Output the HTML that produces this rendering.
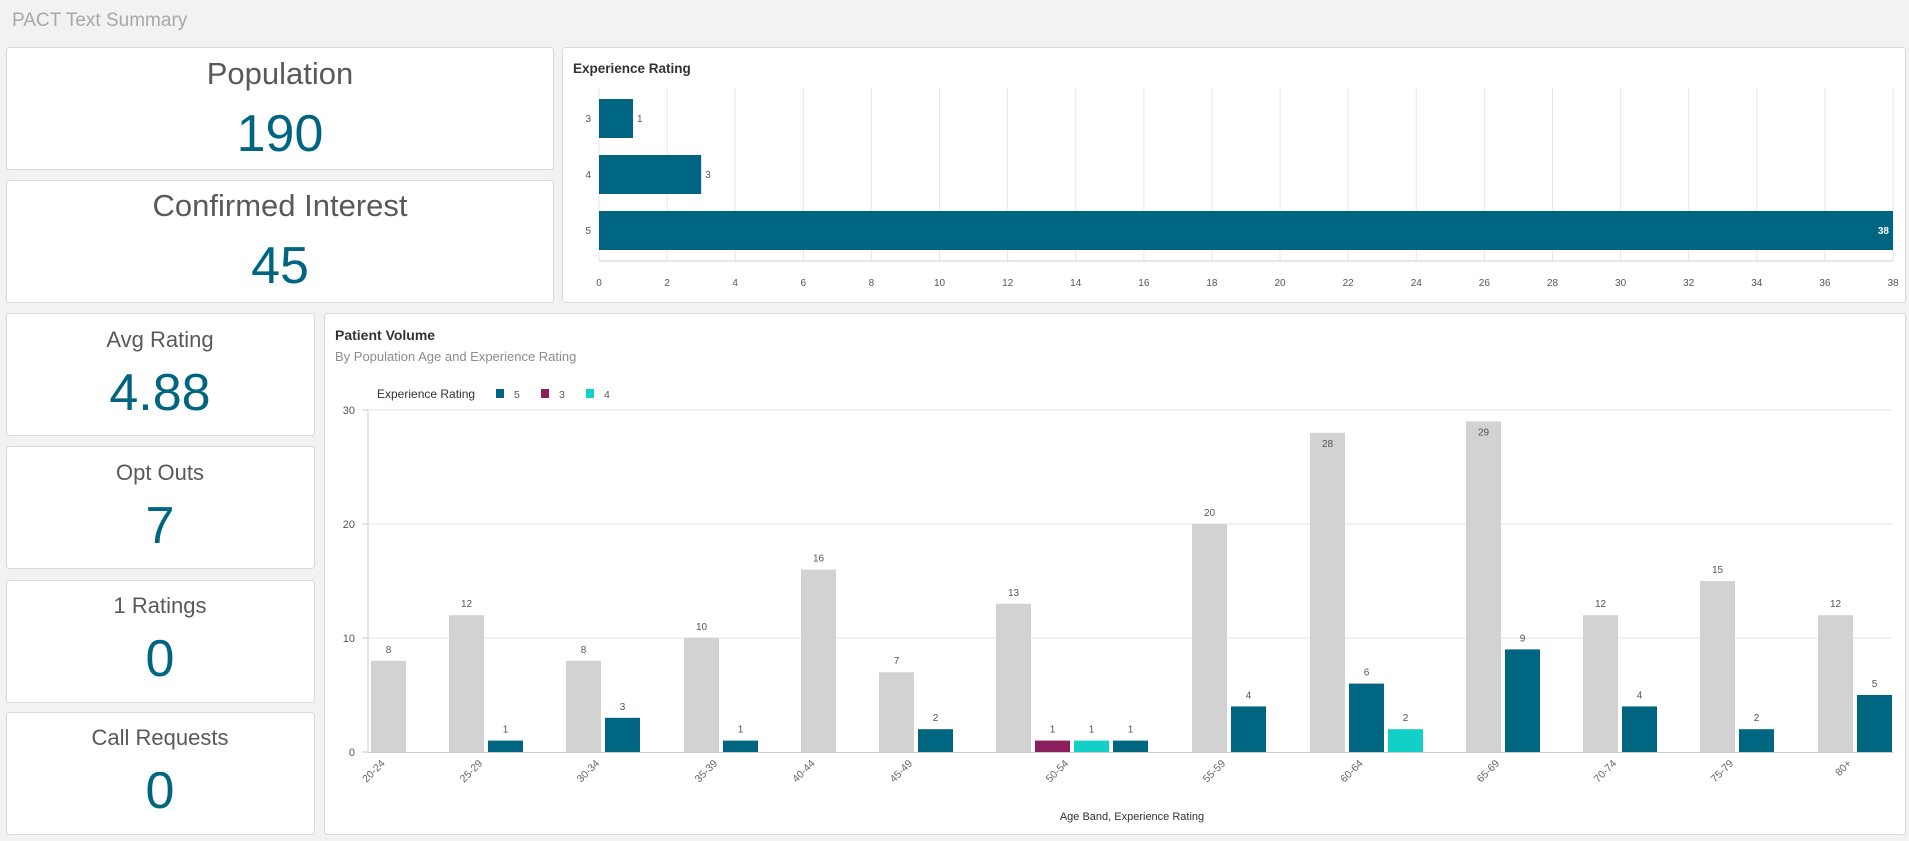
<!DOCTYPE html>
<html><head><meta charset="utf-8"><style>
html,body{margin:0;padding:0;background:#f2f2f2;}
svg{display:block;font-family:"Liberation Sans",sans-serif;}
</style></head><body>
<svg width="1909" height="841" viewBox="0 0 1909 841" xmlns="http://www.w3.org/2000/svg">
<rect width="1909" height="841" fill="#f2f2f2"/>
<text x="12" y="26" font-size="19" fill="#a8a8a8">PACT Text Summary</text>
<g fill="#fff" stroke="#d9d9d9" stroke-width="1">
<rect x="6.5" y="47.5" width="547" height="122" rx="3"/>
<rect x="6.5" y="180.5" width="547" height="122" rx="3"/>
<rect x="562.5" y="47.5" width="1343" height="255" rx="3"/>
<rect x="6.5" y="313.5" width="308" height="122" rx="3"/>
<rect x="6.5" y="446.5" width="308" height="122" rx="3"/>
<rect x="6.5" y="580.5" width="308" height="122" rx="3"/>
<rect x="6.5" y="712.5" width="308" height="122" rx="3"/>
<rect x="324.5" y="313.5" width="1581" height="521" rx="3"/>
</g>
<g text-anchor="middle" fill="#595959">
<text x="280" y="84" font-size="31">Population</text>
<text x="280" y="216" font-size="31">Confirmed Interest</text>
<text x="160" y="347" font-size="22">Avg Rating</text>
<text x="160" y="480" font-size="22">Opt Outs</text>
<text x="160" y="613" font-size="22">1 Ratings</text>
<text x="160" y="745" font-size="22">Call Requests</text>
</g>
<g text-anchor="middle" fill="#006580">
<text x="280" y="151" font-size="52">190</text>
<text x="280" y="283" font-size="52">45</text>
<text x="160" y="410" font-size="52">4.88</text>
<text x="160" y="543" font-size="52">7</text>
<text x="160" y="676" font-size="52">0</text>
<text x="160" y="808" font-size="52">0</text>
</g>
<text x="573" y="73" font-size="13.5" font-weight="bold" fill="#333">Experience Rating</text>
<g stroke="#e6e6e6" stroke-width="1" id="eg"></g>
<g id="ex"></g>
<text x="335" y="340" font-size="14" font-weight="bold" fill="#333">Patient Volume</text>
<text x="335" y="361" font-size="13" fill="#8c8c8c">By Population Age and Experience Rating</text>
<text x="377" y="398" font-size="12" fill="#333">Experience Rating</text>
<rect x="496" y="389" width="8" height="9" fill="#006580"/><text x="514" y="398" font-size="10.5" fill="#555">5</text>
<rect x="541" y="389" width="8" height="9" fill="#8b1f5c"/><text x="559" y="398" font-size="10.5" fill="#555">3</text>
<rect x="586" y="389" width="8" height="9" fill="#12cfc8"/><text x="604" y="398" font-size="10.5" fill="#555">4</text>
<g id="pv"></g>
<text x="1132" y="820" font-size="11" fill="#333" text-anchor="middle">Age Band, Experience Rating</text>
<script>
(function(){
var NS="http://www.w3.org/2000/svg";
function el(p,t,a,txt){var e=document.createElementNS(NS,t);for(var k in a)e.setAttribute(k,a[k]);if(txt!==undefined)e.textContent=txt;p.appendChild(e);return e;}
var eg=document.getElementById('eg'),ex=document.getElementById('ex');
var x0=599,w=1294/38;
for(var v=0;v<=38;v+=2){var x=x0+v*w;el(eg,'line',{x1:x,x2:x,y1:88,y2:261});
el(ex,'text',{x:x,y:286,'font-size':10,fill:'#555','text-anchor':'middle'},v);}
el(ex,'line',{x1:599,x2:1893,y1:261,y2:261,stroke:'#ccc'});
var eb=[[3,1,99],[4,3,155],[5,38,211]];
eb.forEach(function(b){el(ex,'rect',{x:599,y:b[2],width:b[1]*w,height:39,fill:'#006580'});
el(ex,'text',{x:591,y:b[2]+23,'font-size':10,fill:'#555','text-anchor':'end'},b[0]);
if(b[1]==38)el(ex,'text',{x:1889,y:b[2]+23,'font-size':10,'font-weight':'bold',fill:'#fff','text-anchor':'end'},'38');
else el(ex,'text',{x:599+b[1]*w+4,y:b[2]+23,'font-size':10,fill:'#555'},b[1]);});
var pv=document.getElementById('pv');
var y0=752,u=11.4;
[0,10,20,30].forEach(function(v){var y=y0-v*u;
if(v>0)el(pv,'line',{x1:368,x2:1893,y1:y,y2:y,stroke:'#e3e3e3'});
el(pv,'text',{x:355,y:y+4,'font-size':11,fill:'#555','text-anchor':'end'},v);
el(pv,'line',{x1:362,x2:368,y1:y,y2:y,stroke:'#ccc'});});
el(pv,'line',{x1:368,x2:368,y1:410,y2:752,stroke:'#ccc'});
var G='#d2d2d2',T='#006580',P='#8b1f5c',C='#12cfc8';
var groups=[['20-24',371,[[8,G]]],['25-29',449,[[12,G],[1,T]]],['30-34',566,[[8,G],[3,T]]],
['35-39',684,[[10,G],[1,T]]],['40-44',801,[[16,G]]],['45-49',879,[[7,G],[2,T]]],
['50-54',996,[[13,G],[1,P],[1,C],[1,T]]],['55-59',1192,[[20,G],[4,T]]],['60-64',1310,[[28,G],[6,T],[2,C]]],
['65-69',1466,[[29,G],[9,T]]],['70-74',1583,[[12,G],[4,T]]],['75-79',1700,[[15,G],[2,T]]],['80+',1818,[[12,G],[5,T]]]];
groups.forEach(function(g){var bs=g[2];
bs.forEach(function(b,i){var x=g[1]+i*39,h=b[0]*u;
el(pv,'rect',{x:x,y:y0-h,width:35,height:h,fill:b[1]});
var ty=b[0]>=28?y0-h+14:y0-h-8;
el(pv,'text',{x:x+17.5,y:ty,'font-size':10,fill:'#555','text-anchor':'middle'},b[0]);});
var cx=g[1]+(bs.length*39-4)/2;
el(pv,'text',{x:cx-3,y:764,'font-size':10.5,fill:'#666','text-anchor':'end',transform:'rotate(-45 '+(cx-3)+' 764)'},g[0]);});
el(pv,'line',{x1:368,x2:1893,y1:752.5,y2:752.5,stroke:'#ccc'});
})();
</script>
</svg>
</body></html>
